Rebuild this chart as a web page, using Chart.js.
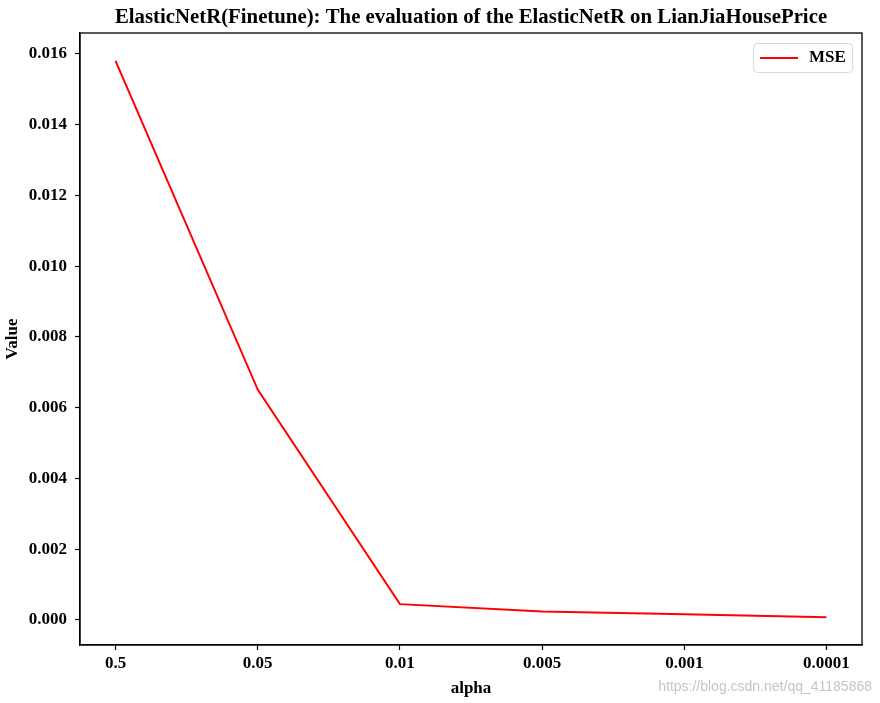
<!DOCTYPE html>
<html>
<head>
<meta charset="utf-8">
<script src="https://cdn.jsdelivr.net/npm/chart.js@4.4.1/dist/chart.umd.min.js"></script>
<style>
  html, body { margin: 0; padding: 0; background: #fff; }
  #wrap { width: 880px; height: 703px; }
</style>
</head>
<body>
<div id="wrap"><canvas id="mseChart" width="880" height="703"></canvas></div>
<script>
// data
const alphaLabels = ["0.5", "0.05", "0.01", "0.005", "0.001", "0.0001"];
const mseValues = [0.0158, 0.00651, 0.000445, 0.000235, 0.00016, 0.000077];
const yTicks = [0, 0.002, 0.004, 0.006, 0.008, 0.010, 0.012, 0.014, 0.016];
const titleText = "ElasticNetR(Finetune): The evaluation of the ElasticNetR on LianJiaHousePrice";

const serif = "'Liberation Serif', 'Times New Roman', serif";

// title over the plot, frame round the plot, legend box, watermark
const framePlugin = {
  id: "frame",
  afterDatasetsDraw(chart) {
    const c = chart.ctx;
    const a = chart.chartArea;
    c.save();
    c.strokeStyle = "#000";
    c.lineWidth = 1.3;
    c.strokeRect(a.left, a.top, a.right - a.left, a.bottom - a.top);

    // title, centred on the axes like matplotlib
    c.fillStyle = "#000";
    c.font = "bold 20.8px " + serif;
    c.textAlign = "center";
    c.textBaseline = "middle";
    c.fillText(titleText, (a.left + a.right) / 2, 18);

    // legend
    const lx = a.right - 109, ly = a.top + 10, lw = 99, lh = 29;
    c.fillStyle = "rgba(255,255,255,0.8)";
    c.strokeStyle = "#d8d8d8";
    c.lineWidth = 1;
    c.beginPath();
    c.roundRect(lx + 0.5, ly + 0.5, lw, lh, 4);
    c.fill();
    c.stroke();
    c.strokeStyle = "#ff0000";
    c.lineWidth = 2;
    c.beginPath();
    c.moveTo(lx + 7, ly + 15);
    c.lineTo(lx + 45, ly + 15);
    c.stroke();
    c.fillStyle = "#000";
    c.font = "bold 17px " + serif;
    c.textAlign = "left";
    c.fillText("MSE", lx + 56, ly + 15);

    // watermark
    c.fillStyle = "rgba(190,190,190,0.9)";
    c.font = "14px 'Liberation Sans', Arial, sans-serif";
    c.textAlign = "right";
    c.textBaseline = "alphabetic";
    c.fillText("https://blog.csdn.net/qq_41185868", 872, 691);
    c.restore();
  }
};

new Chart(document.getElementById("mseChart"), {
  type: "line",
  data: {
    datasets: [{
      label: "MSE",
      data: mseValues.map((v, i) => ({ x: i, y: v })),
      borderColor: "#ff0000",
      borderWidth: 2,
      pointRadius: 0,
      tension: 0,
      fill: false
    }]
  },
  options: {
    responsive: false,
    animation: false,
    layout: { padding: { left: 0, right: 18, top: 33, bottom: 0 } },
    plugins: {
      legend: { display: false },
      tooltip: { enabled: false },
      title: { display: false }
    },
    scales: {
      x: {
        type: "linear",
        min: -0.25,
        max: 5.25,
        afterBuildTicks(scale) {
          scale.ticks = alphaLabels.map((l, i) => ({ value: i }));
        },
        afterFit(scale) { scale.height = 58; },
        ticks: {
          color: "#000",
          font: { family: serif, size: 17, weight: "bold" },
          padding: 3,
          maxRotation: 0,
          callback: (v) => alphaLabels[v]
        },
        grid: { drawOnChartArea: false, drawTicks: true, tickLength: 5, color: "#000", tickWidth: 1.2 },
        border: { display: true, color: "#000", width: 1.3 },
        title: {
          display: true,
          text: "alpha",
          color: "#000",
          font: { family: serif, size: 17, weight: "bold" },
          padding: { top: 0, bottom: 4 }
        }
      },
      y: {
        min: -0.00071,
        max: 0.01659,
        afterBuildTicks(scale) {
          scale.ticks = yTicks.map(v => ({ value: v }));
        },
        afterFit(scale) { scale.width = 80; },
        ticks: {
          color: "#000",
          font: { family: serif, size: 17, weight: "bold" },
          padding: 8,
          callback: (v) => v.toFixed(3)
        },
        grid: { drawOnChartArea: false, drawTicks: true, tickLength: 5, color: "#000", tickWidth: 1.2 },
        border: { display: true, color: "#000", width: 1.3 },
        title: {
          display: true,
          text: "Value",
          color: "#000",
          font: { family: serif, size: 17, weight: "bold" },
          padding: { top: 2, bottom: 4 }
        }
      }
    }
  },
  plugins: [framePlugin]
});
</script>
</body>
</html>
